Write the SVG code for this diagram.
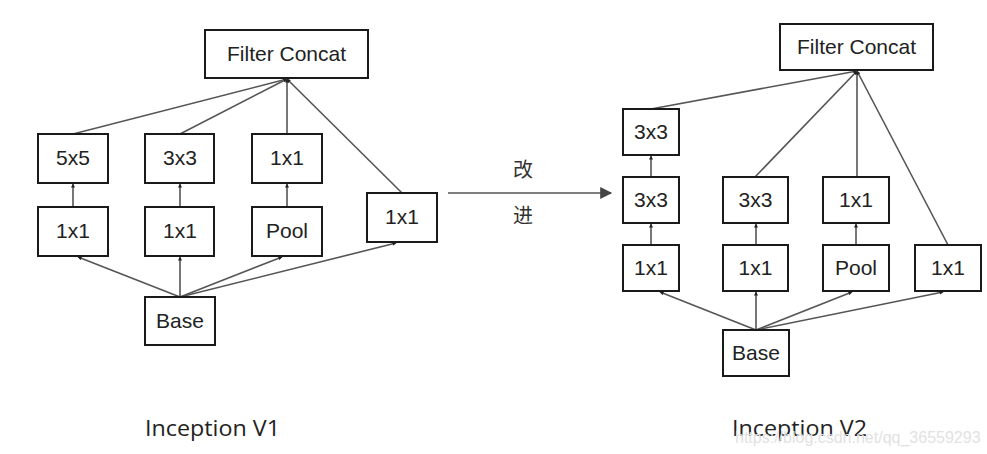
<svg xmlns="http://www.w3.org/2000/svg" width="987" height="454" viewBox="0 0 987 454">
<style>
.box rect{fill:#fff;stroke:#1a1a1a;stroke-width:2}
.box text{font-family:"Liberation Sans",Arial,sans-serif;font-size:21px;fill:#222;text-anchor:middle}
.cn line{stroke:#555;stroke-width:1.6;fill:none}
.lbl{font-family:"Open Sans","Liberation Sans",sans-serif;font-size:22px;fill:#222}
</style>
<defs>
<marker id="ah" viewBox="0 0 10 10" refX="9" refY="5" markerWidth="4" markerHeight="4" orient="auto" markerUnits="userSpaceOnUse">
<path d="M0,0 L10,5 L0,10 z" fill="#222"/>
</marker>
<marker id="big" viewBox="0 0 10 10" refX="9" refY="5" markerWidth="14" markerHeight="12" orient="auto" markerUnits="userSpaceOnUse">
<path d="M0,0 L10,5 L0,10 z" fill="#444"/>
</marker>
</defs>
<rect width="987" height="454" fill="#fff"/>

<g id="connectors" class="cn">
<!-- V1 -->
<line x1="73" y1="134" x2="287" y2="79" marker-end="url(#ah)"/>
<line x1="180" y1="134" x2="287" y2="79" marker-end="url(#ah)"/>
<line x1="287" y1="134" x2="287" y2="79" marker-end="url(#ah)"/>
<line x1="402" y1="193" x2="287" y2="79" marker-end="url(#ah)"/>
<line x1="73" y1="207" x2="73" y2="184" marker-end="url(#ah)"/>
<line x1="180" y1="207" x2="180" y2="184" marker-end="url(#ah)"/>
<line x1="287" y1="207" x2="287" y2="184" marker-end="url(#ah)"/>
<line x1="180" y1="297" x2="78" y2="257" marker-end="url(#ah)"/>
<line x1="180" y1="297" x2="180" y2="257" marker-end="url(#ah)"/>
<line x1="180" y1="297" x2="282" y2="257" marker-end="url(#ah)"/>
<line x1="180" y1="297" x2="396" y2="243" marker-end="url(#ah)"/>
<!-- V2 -->
<line x1="651" y1="109" x2="857" y2="71" marker-end="url(#ah)"/>
<line x1="755" y1="177" x2="857" y2="71" marker-end="url(#ah)"/>
<line x1="857" y1="177" x2="857" y2="71" marker-end="url(#ah)"/>
<line x1="948" y1="245" x2="857" y2="71" marker-end="url(#ah)"/>
<line x1="651" y1="177" x2="651" y2="156" marker-end="url(#ah)"/>
<line x1="651" y1="245" x2="651" y2="224" marker-end="url(#ah)"/>
<line x1="756" y1="245" x2="756" y2="224" marker-end="url(#ah)"/>
<line x1="856" y1="245" x2="856" y2="224" marker-end="url(#ah)"/>
<line x1="756" y1="330" x2="660" y2="292" marker-end="url(#ah)"/>
<line x1="756" y1="330" x2="756" y2="292" marker-end="url(#ah)"/>
<line x1="756" y1="330" x2="852" y2="292" marker-end="url(#ah)"/>
<line x1="756" y1="330" x2="943" y2="292" marker-end="url(#ah)"/>
<!-- middle -->
<line x1="448" y1="193" x2="611" y2="193" stroke="#444" stroke-width="2.2" marker-end="url(#big)"/>
</g>

<!-- V1 nodes -->
<g id="v1-concat" class="box"><rect x="205" y="30" width="163" height="48"/><text x="286.5" y="61">Filter Concat</text></g>
<g id="v1-5x5" class="box"><rect x="38" y="134" width="70" height="49"/><text x="73" y="165">5x5</text></g>
<g id="v1-3x3" class="box"><rect x="145" y="134" width="69" height="49"/><text x="180" y="165">3x3</text></g>
<g id="v1-1x1a" class="box"><rect x="252" y="134" width="70" height="49"/><text x="287" y="165">1x1</text></g>
<g id="v1-1x1b" class="box"><rect x="38" y="207" width="70" height="49"/><text x="73" y="238">1x1</text></g>
<g id="v1-1x1c" class="box"><rect x="145" y="207" width="69" height="49"/><text x="180" y="238">1x1</text></g>
<g id="v1-pool" class="box"><rect x="252" y="207" width="70" height="49"/><text x="287" y="238">Pool</text></g>
<g id="v1-1x1d" class="box"><rect x="367" y="193" width="70" height="49"/><text x="402" y="224">1x1</text></g>
<g id="v1-base" class="box"><rect x="145" y="297" width="70" height="48"/><text x="180" y="328">Base</text></g>

<!-- V2 nodes -->
<g id="v2-concat" class="box"><rect x="780" y="24" width="153" height="46"/><text x="856.5" y="54">Filter Concat</text></g>
<g id="v2-3x3top" class="box"><rect x="623" y="109" width="56" height="46"/><text x="651" y="139">3x3</text></g>
<g id="v2-3x3a" class="box"><rect x="623" y="177" width="56" height="46"/><text x="651" y="207">3x3</text></g>
<g id="v2-3x3b" class="box"><rect x="723" y="177" width="65" height="46"/><text x="755.5" y="207">3x3</text></g>
<g id="v2-1x1a" class="box"><rect x="823" y="177" width="66" height="46"/><text x="856" y="207">1x1</text></g>
<g id="v2-1x1b" class="box"><rect x="623" y="245" width="56" height="46"/><text x="651" y="275">1x1</text></g>
<g id="v2-1x1c" class="box"><rect x="723" y="245" width="65" height="46"/><text x="755.5" y="275">1x1</text></g>
<g id="v2-pool" class="box"><rect x="823" y="245" width="66" height="46"/><text x="856" y="275">Pool</text></g>
<g id="v2-1x1d" class="box"><rect x="915" y="245" width="66" height="46"/><text x="948" y="275">1x1</text></g>
<g id="v2-base" class="box"><rect x="723" y="330" width="66" height="46"/><text x="756" y="360">Base</text></g>

<!-- middle labels -->
<text x="523" y="177" font-family="'Noto Sans CJK SC','Noto Sans',sans-serif" font-size="20" fill="#333" text-anchor="middle">改</text>
<text x="523" y="223" font-family="'Noto Sans CJK SC','Noto Sans',sans-serif" font-size="20" fill="#333" text-anchor="middle">进</text>

<text x="145" y="436" class="lbl" textLength="135" lengthAdjust="spacingAndGlyphs">Inception V1</text>
<text x="732" y="436" class="lbl" textLength="135" lengthAdjust="spacingAndGlyphs">Inception V2</text>
<text x="735" y="443" font-family="'Liberation Sans',Arial,sans-serif" font-size="16" fill="#e2e2e2">https://blog.csdn.net/qq_36559293</text>
</svg>
